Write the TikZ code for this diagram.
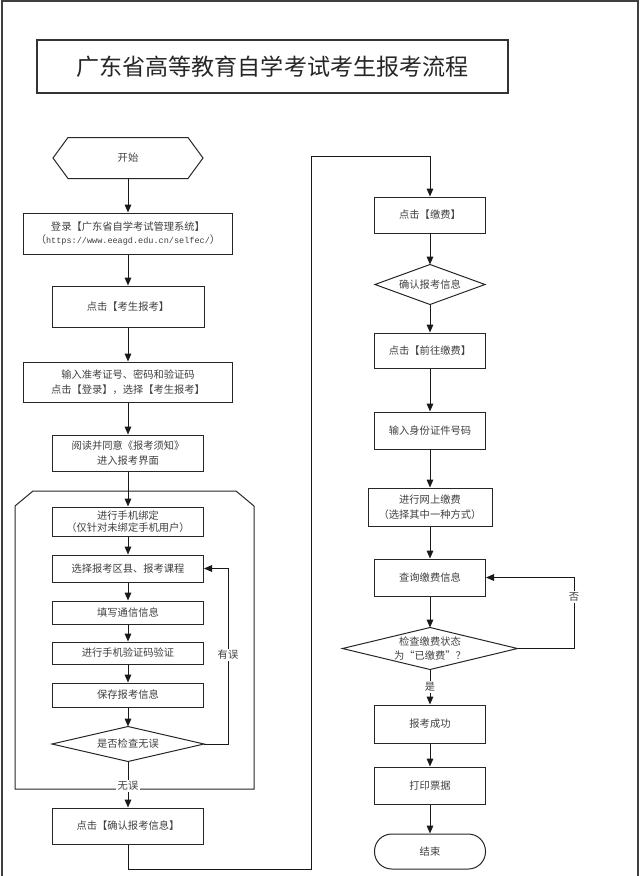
\documentclass[tikz,border=0pt]{standalone}
\usepackage{fontspec}
\setmainfont{Liberation Serif}
\newfontfamily\cjk{Noto Sans CJK SC}
\newfontfamily\monof{Liberation Mono}
\usetikzlibrary{arrows.meta,calc}
\begin{document}
\begin{tikzpicture}[x=0.75pt,y=-0.75pt,
  line width=0.75pt,
  sz/.style 2 args={minimum width=#1*0.75pt,minimum height=#2*0.75pt},
  box/.style={draw=black!85, fill=white, inner sep=0pt, align=center,
    font=\cjk\fontsize{7.7}{11}\selectfont, text=black!75},
  ghost/.style={inner sep=0pt, align=center,
    font=\cjk\fontsize{7.7}{11}\selectfont, text=black!75},
  outline/.style={draw=black!85, line width=0.75pt},
  arr/.style={-{Triangle[length=6pt,width=5pt]}, draw=black!90},
  lbl/.style={fill=white, inner sep=1pt, font=\cjk\fontsize{7.7}{9}\selectfont, text=black!75},
]
\useasboundingbox (0,0) rectangle (640,876);
% outer frame
\draw[line width=1.5pt, draw=black!75] (2,880) -- (2,1) -- (638,1) -- (638,880);
% title
\node[draw=black!80, line width=0.9pt, sz={471}{53}, inner sep=0pt,
  font=\cjk\fontsize{17.3}{20}\selectfont, text=black!85] (title) at (272.5,66.5)
  {广东省高等教育自学考试考生报考流程};

% group frame
\draw[outline] (33,491) -- (236,491) -- (254,506) -- (254,789) -- (15,789) -- (15,506) -- cycle;

% left column
\node[ghost, sz={149}{40}] (start) at (128,158) {开始};
\draw[outline] (start.west) -- ([xshift=11.25pt]start.north west) -- ([xshift=-11.25pt]start.north east)
  -- (start.east) -- ([xshift=-11.25pt]start.south east) -- ([xshift=11.25pt]start.south west) -- cycle;
\node[box, sz={209}{41}] (login) at (128,233.5)
  {登录【广东省自学考试管理系统】\\[-1pt]（{\monof\fontsize{6.4}{8}\selectfont https://www.eeagd.edu.cn/selfec/}）};
\node[box, sz={152}{41}] (kaosheng) at (128,306.5) {点击【考生报考】};
\node[box, sz={209}{40}] (input) at (128,382) {输入准考证号、密码和验证码\\点击【登录】，选择【考生报考】};
\node[box, sz={151}{36}] (read) at (128,453) {阅读并同意《报考须知》\\进入报考界面};
\node[box, sz={151}{29}] (bind) at (128,521.5) {进行手机绑定\\[-2pt]（仅针对未绑定手机用户）};
\node[box, sz={151}{27}] (select) at (128,568.5) {选择报考区县、报考课程};
\node[box, sz={151}{23}] (fill) at (128,612.5) {填写通信信息};
\node[box, sz={151}{22}] (verify) at (128,653) {进行手机验证码验证};
\node[box, sz={151}{24}] (save) at (128,695) {保存报考信息};
\node[ghost, sz={151}{34}] (check) at (128,744) {是否检查无误};
\draw[outline] (check.west) -- (check.north) -- (check.east) -- (check.south) -- cycle;
\node[box, sz={151}{36}] (confirm) at (128,826) {点击【确认报考信息】};

% right column
\node[box, sz={111}{36}] (pay) at (430,215) {点击【缴费】};
\node[ghost, sz={109}{39}] (cinfo) at (430,284.5) {确认报考信息};
\draw[outline] (cinfo.west) -- (cinfo.north) -- (cinfo.east) -- (cinfo.south) -- cycle;
\node[box, sz={111}{35}] (goto) at (430,350.5) {点击【前往缴费】};
\node[box, sz={111}{37}] (idn) at (430,430.5) {输入身份证件号码};
\node[box, sz={124}{38}] (online) at (430,507) {进行网上缴费\\（选择其中一种方式）};
\node[box, sz={111}{37}] (query) at (430,577.5) {查询缴费信息};
\node[ghost, sz={174}{41}] (paycheck) at (430,648.5) {检查缴费状态\\为“已缴费”？};
\draw[outline] (paycheck.west) -- (paycheck.north) -- (paycheck.east) -- (paycheck.south) -- cycle;
\node[box, sz={111}{38}] (success) at (430,724) {报考成功};
\node[box, sz={111}{37}] (print) at (430,785.5) {打印票据};
\node[box, sz={111}{35}, rounded corners=12.9pt] (finish) at (430,851.5) {结束};

% connectors left
\draw[arr] (start) -- (login);
\draw[arr] (login) -- (kaosheng);
\draw[arr] (kaosheng) -- (input);
\draw[arr] (input) -- (read);
\draw[arr] (read) -- (bind);
\draw[arr] (bind) -- (select);
\draw[arr] (select) -- (fill);
\draw[arr] (fill) -- (verify);
\draw[arr] (verify) -- (save);
\draw[arr] (save) -- (check.north);
\draw[arr] (check.south) -- (confirm);
\coordinate (e1) at (228,568.5);
\draw[arr] (check.east) -| (e1) -- (select.east);

% crossing loop
\coordinate (c1) at (128,869);
\coordinate (c2) at (311,869);
\coordinate (c3) at (311,156);
\coordinate (c4) at (430,156);
\draw[arr] (confirm.south) -- (c1) -- (c2) -- (c3) -- (c4) -- (pay.north);

% connectors right
\draw[arr] (pay) -- (cinfo.north);
\draw[arr] (cinfo.south) -- (goto);
\draw[arr] (goto) -- (idn);
\draw[arr] (idn) -- (online);
\draw[arr] (online) -- (query);
\draw[arr] (query) -- (paycheck.north);
\draw[arr] (paycheck.south) -- (success);
\draw[arr] (success) -- (print);
\draw[arr] (print) -- (finish);
\coordinate (n1) at (574,577.5);
\draw[arr] (paycheck.east) -| (n1) -- (query.east);

% labels
\node[lbl] (ly) at (228,655) {有误};
\node[lbl] (lw) at (128,786) {无误};
\node[lbl] (ln) at (574,597) {否};
\node[lbl] (ls) at (430,687) {是};
\end{tikzpicture}
\end{document}
